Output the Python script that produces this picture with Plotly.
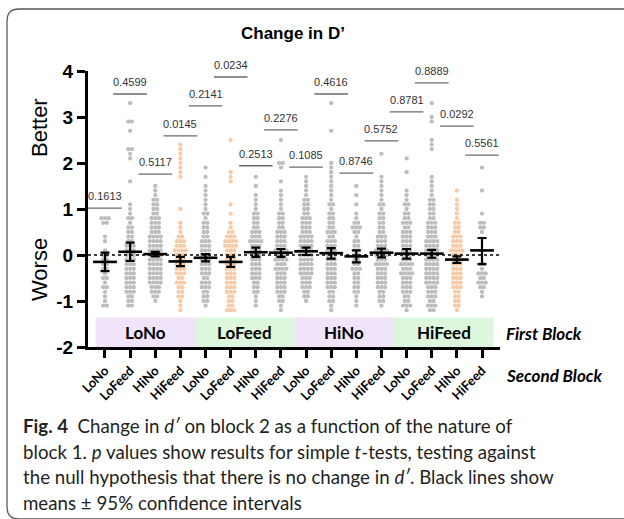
import plotly.graph_objects as go

# ---------------- data ----------------
FIRST_BLOCK = ["LoNo", "LoFeed", "HiNo", "HiFeed"]
SECOND_BLOCK = ["LoNo", "LoFeed", "HiNo", "HiFeed"]

# change in d' histogram per group (counts per 0.1 bin starting at -1.2)
BIN_START = -1.2
BIN_STEP = 0.1
COUNTS = [
    # LoNo -> LoNo
    [0, 2, 1, 1, 1, 2, 1, 2, 1, 2, 2, 2, 2, 1, 0, 1, 1, 0, 0, 2, 3],
    # LoNo -> LoFeed
    [0, 2, 2, 2, 3, 3, 3, 3, 3, 3, 3, 3, 3, 3, 3, 2, 2, 2, 2, 1, 2, 1, 1, 1,
     0, 0, 0, 0, 1, 0, 0, 0, 0, 1, 1, 2, 0, 0, 0, 1, 0, 2, 0, 0, 0, 1],
    # LoNo -> HiNo
    [0, 0, 1, 2, 3, 3, 4, 4, 4, 4, 4, 4, 4, 4, 4, 4, 4, 3, 3, 3, 3, 2, 2, 2,
     2, 1, 1, 1],
    # LoNo -> HiFeed
    [1, 1, 1, 2, 2, 2, 3, 2, 3, 3, 3, 3, 3, 4, 3, 3, 2, 1, 1, 1, 0, 0, 1, 0,
     0, 0, 0, 0, 0, 1, 1, 1, 1, 1, 1, 1, 1],
    # LoFeed -> LoNo
    [0, 1, 2, 2, 2, 3, 3, 2, 3, 3, 3, 3, 3, 3, 3, 3, 2, 2, 2, 2, 1, 2, 1, 1,
     1, 1, 1, 1, 0, 1, 0, 1],
    # LoFeed -> LoFeed
    [3, 2, 2, 2, 3, 3, 3, 3, 3, 3, 3, 3, 3, 3, 4, 4, 3, 2, 1, 1, 0, 1, 0, 1,
     0, 0, 0, 0, 1, 1, 1, 0, 0, 0, 0, 0, 0, 1],
    # LoFeed -> HiNo
    [0, 1, 1, 1, 2, 2, 2, 3, 3, 3, 3, 3, 3, 3, 3, 4, 3, 3, 2, 2, 2, 2, 1, 1,
     1, 1, 0, 1, 0, 1],
    # LoFeed -> HiFeed
    [1, 1, 2, 2, 3, 3, 3, 3, 3, 4, 3, 4, 3, 4, 3, 3, 3, 3, 2, 2, 2, 2, 1, 1,
     1, 1, 1, 0, 1, 0, 0, 1, 2, 0, 0, 0, 0, 1],
    # HiNo -> LoNo
    [0, 0, 1, 2, 2, 3, 3, 3, 4, 4, 4, 4, 4, 4, 4, 4, 4, 3, 3, 3, 3, 2, 2, 2,
     2, 1, 1, 1, 1, 1],
    # HiNo -> LoFeed
    [1, 1, 2, 2, 2, 3, 3, 3, 3, 3, 3, 3, 3, 3, 3, 3, 2, 3, 2, 2, 2, 2, 1, 2,
     1, 1, 1, 1, 1, 1, 1, 1, 1, 0, 0, 0, 0, 0, 0, 1, 0, 0, 0, 0, 0, 1],
    # HiNo -> HiNo
    [0, 1, 1, 1, 2, 2, 2, 2, 2, 3, 2, 2, 2, 2, 2, 2, 1, 2, 3, 2, 1, 1, 0, 1,
     0, 1, 0, 1],
    # HiNo -> HiFeed
    [0, 1, 2, 2, 2, 3, 3, 3, 3, 3, 4, 3, 4, 4, 3, 3, 3, 2, 2, 2, 2, 2, 1, 2,
     1, 1, 1, 1, 1, 1, 0, 0, 0, 0, 1],
    # HiFeed -> LoNo
    [1, 3, 2, 2, 3, 3, 3, 3, 4, 3, 4, 3, 3, 3, 3, 3, 3, 3, 2, 3, 2, 2, 1, 2,
     1, 1, 1, 0, 0, 0, 1, 0, 0, 1],
    # HiFeed -> LoFeed
    [2, 3, 2, 3, 3, 3, 4, 4, 4, 4, 4, 4, 4, 4, 4, 4, 3, 3, 3, 3, 2, 2, 2, 2,
     2, 1, 1, 1, 1, 1, 0, 0, 0, 0, 0, 1, 1, 1, 0, 0, 0, 1, 1, 0, 0, 1],
    # HiFeed -> HiNo
    [1, 2, 2, 2, 2, 3, 3, 3, 3, 3, 3, 4, 3, 4, 3, 3, 3, 2, 2, 2, 1, 1, 1, 1,
     1, 0, 1],
    # HiFeed -> HiFeed
    [0, 0, 0, 1, 1, 2, 3, 2, 3, 1, 2, 0, 0, 0, 0, 0, 0, 1, 2, 2, 0, 1, 0, 0,
     0, 0, 1, 0, 0, 0, 0, 1],
]

MEANS = [-0.15, 0.07, 0.02, -0.14, -0.06, -0.15, 0.06, 0.05,
         0.08, 0.04, -0.03, 0.05, 0.03, 0.03, -0.10, 0.10]
CI_LOW = [-0.35, -0.13, -0.03, -0.24, -0.14, -0.26, -0.04, -0.04,
          0.00, -0.08, -0.16, -0.05, -0.08, -0.06, -0.17, -0.20]
CI_HIGH = [0.05, 0.27, 0.07, -0.04, 0.02, -0.04, 0.16, 0.13,
           0.16, 0.15, 0.10, 0.14, 0.13, 0.11, -0.03, 0.37]

P_VALUES = ["0.1613", "0.4599", "0.5117", "0.0145", "0.2141", "0.0234",
            "0.2513", "0.2276", "0.1085", "0.4616", "0.8746", "0.5752",
            "0.8781", "0.8889", "0.0292", "0.5561"]
P_LINE_Y = [1.02, 3.50, 1.76, 2.59, 3.24, 3.87, 1.94, 2.72,
            1.91, 3.50, 1.78, 2.48, 3.11, 3.74, 2.80, 2.17]

Y_TICKS = [-2, -1, 0, 1, 2, 3, 4]

# ---------------- style ----------------
W, H = 624, 519
GREY = "#bdbdbd"
ORANGE = "#f7caa5"
ORANGE_GROUPS = {3, 5, 14}
BOX_COLORS = ["#efe4fa", "#dcf7dc", "#efe4fa", "#dcf7dc"]
DOT_DX = 0.145
ARIAL = "Liberation Sans, Arial, sans-serif"
CAL = "Lato, Liberation Sans, sans-serif"


def fx(px):
    return px / W


def fy(py):
    return 1 - py / H


n_groups = len(FIRST_BLOCK) * len(SECOND_BLOCK)
xpos = list(range(n_groups))
tick_text = ["<b>%s</b>" % s for _ in FIRST_BLOCK for s in SECOND_BLOCK]

# swarm layout of points within each group
pts = {GREY: ([], []), ORANGE: ([], [])}
for g, rows in enumerate(COUNTS):
    col = ORANGE if g in ORANGE_GROUPS else GREY
    for b, n in enumerate(rows):
        yv = BIN_START + b * BIN_STEP
        for k in range(n):
            pts[col][0].append(g + (k - (n - 1) / 2) * DOT_DX)
            pts[col][1].append(yv)

fig = go.Figure()
for col, (xs, ys) in pts.items():
    fig.add_trace(go.Scatter(
        x=xs, y=ys, mode="markers",
        marker=dict(size=4.3, color=col, line=dict(width=0)),
        hoverinfo="skip", showlegend=False))

fig.add_trace(go.Scatter(
    x=xpos, y=MEANS, mode="markers",
    marker=dict(symbol="line-ew", size=17, color="black",
                line=dict(width=2.6, color="black")),
    error_y=dict(type="data", symmetric=False,
                 array=[h - m for h, m in zip(CI_HIGH, MEANS)],
                 arrayminus=[m - l for m, l in zip(MEANS, CI_LOW)],
                 width=4.5, thickness=2.2, color="black"),
    showlegend=False, hoverinfo="skip"))

shapes = []
annotations = []

# first-block bands along the bottom
edges = [-0.38 + 3.96 * i for i in range(5)]
for i, name in enumerate(FIRST_BLOCK):
    shapes.append(dict(type="rect", xref="x", yref="y", layer="below",
                       x0=edges[i], x1=edges[i + 1], y0=-2, y1=-1.36,
                       fillcolor=BOX_COLORS[i], line=dict(width=0)))
    annotations.append(dict(xref="x", yref="y", x=(edges[i] + edges[i + 1]) / 2,
                            y=-1.69, text="<b>%s</b>" % name, showarrow=False,
                            xanchor="center", yanchor="middle",
                            font=dict(family=CAL, size=17, color="black")))

# p-value brackets
for g, (p, ly) in enumerate(zip(P_VALUES, P_LINE_Y)):
    shapes.append(dict(type="line", xref="x", yref="y", x0=g - 0.67, x1=g + 0.67,
                       y0=ly, y1=ly, line=dict(color="#6b6b6b", width=1.3)))
    annotations.append(dict(xref="x", yref="y", x=g, y=ly, xanchor="center",
                            yanchor="bottom", yshift=4, text=p, showarrow=False,
                            font=dict(family=ARIAL, size=11, color="#333333")))

# zero reference
shapes.append(dict(type="line", xref="paper", yref="y", x0=fx(88), x1=fx(501),
                   y0=0, y1=0, line=dict(color="black", width=1.5, dash="dot")))

# rounded frame
r = 12
x0, y0, x1, y1 = 7, 9, 650, 519
path = ("M {a},{b} L {c},{b} Q {d},{b} {d},{e} L {d},{f} Q {d},{g} {c},{g} L {a},{g}"
        .format(a=fx(x1), b=fy(y0), c=fx(x0 + r), d=fx(x0), e=fy(y0 + r),
                f=fy(y1 - r), g=fy(y1)))
shapes.append(dict(type="path", xref="paper", yref="paper", path=path,
                   line=dict(color="#5a5a5a", width=1.3)))


def label(px, py, text, size, family, anchor="center", angle=0):
    return dict(xref="paper", yref="paper", x=fx(px), y=fy(py), text=text,
                xanchor=anchor, yanchor="middle", textangle=angle,
                showarrow=False, font=dict(family=family, size=size, color="black"))


annotations += [
    label(293, 33, "<b>Change in D’</b>", 17, ARIAL),
    label(39, 128, "Better", 22, ARIAL, angle=-90),
    label(39, 270, "Worse", 22, ARIAL, angle=-90),
    label(504, 333, "<b><i>First Block</i></b>", 17, CAL, anchor="left"),
    label(504, 375, "<b><i>Second Block</i></b>", 17, CAL, anchor="left"),
]

caption = [
    "<b>Fig. 4</b>  Change in <i>d′</i> on block 2 as a function of the nature of",
    "block 1. <i>p</i> values show results for simple <i>t</i>-tests, testing against",
    "the null hypothesis that there is no change in <i>d′</i>. Black lines show",
    "means ± 95% confidence intervals",
]
for i, line in enumerate(caption):
    ann = label(21, 426 + 25.7 * i, line, 18.7, CAL, anchor="left")
    ann["font"]["color"] = "#231f20"
    annotations.append(ann)

fig.update_layout(
    width=W, height=H, margin=dict(l=0, r=0, t=0, b=0, autoexpand=False),
    paper_bgcolor="white", plot_bgcolor="white",
    shapes=shapes, annotations=annotations,
    xaxis=dict(domain=[fx(88), fx(500)], range=[-0.676, 15.716],
               tickmode="array", tickvals=xpos, ticktext=tick_text, tickangle=-45,
               tickfont=dict(family=CAL, size=13, color="black"),
               showline=True, linewidth=3, linecolor="black",
               ticks="outside", ticklen=8, tickwidth=2.6, tickcolor="black",
               showgrid=False, zeroline=False, automargin=False),
    yaxis=dict(domain=[fy(347), fy(71)], range=[-2, 4],
               tickmode="array", tickvals=Y_TICKS,
               ticktext=["<b>%d</b>" % v for v in Y_TICKS],
               tickfont=dict(family=ARIAL, size=19, color="black"),
               showline=True, linewidth=3, linecolor="black",
               ticks="outside", ticklen=8, tickwidth=2.6, tickcolor="black",
               showgrid=False, zeroline=False, automargin=False),
)

fig.write_html("out.html")
